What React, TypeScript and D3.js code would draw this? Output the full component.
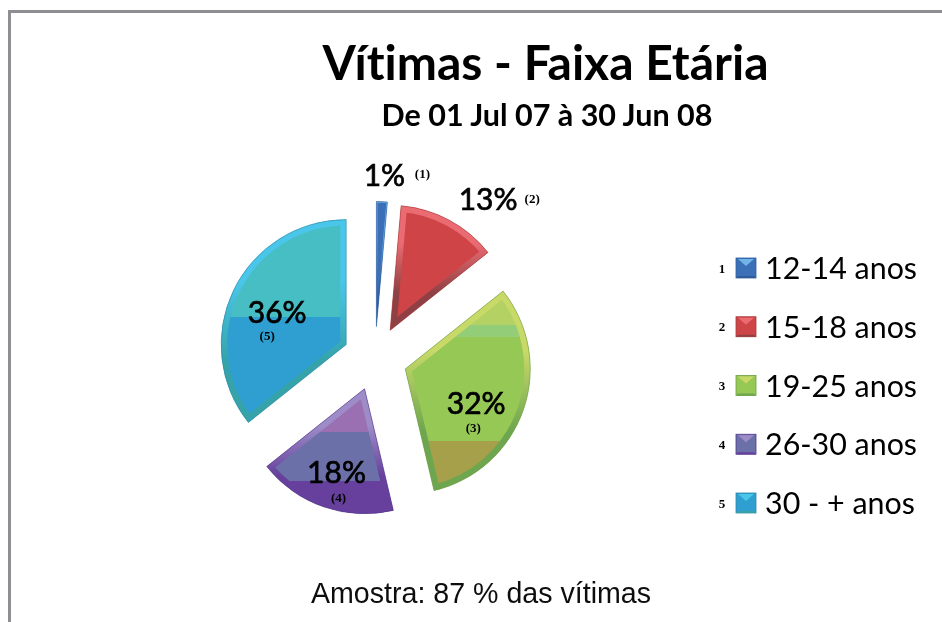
import React from 'react';
import * as d3 from 'd3';

// chart values
const categories = ['12-14 anos', '15-18 anos', '19-25 anos', '26-30 anos', '30 - + anos'];
const values = [1.4, 12.9, 32, 18, 35.7];
const markers = ['1', '2', '3', '4', '5'];
const chartTitle = 'Vítimas - Faixa Etária';
const chartSubtitle = 'De 01 Jul 07 à 30 Jun 08';
const footnote = 'Amostra: 87 % das vítimas';

// look of each slice: base colour, light bevel, dark bevel, rim
const baseColors = ['#3b6fb8', '#cf4546', '#96c857', '#6c70a8', '#2e9fd0'];
const lightBevels = ['#6fb4e8', '#ea6c72', '#c8d968', '#9d8cc8', '#4ac6ea'];
const darkBevels = ['#2e5a9a', '#8f4044', '#6ea64f', '#66409c', '#35a3a8'];
const rims = ['#2f5f9f', '#a33c3c', '#6b9e48', '#54398c', '#2f88a8'];
// gloss bands: [fraction of slice height, colour]
const bands: [number, string][][] = [
  [[1, '#3b6fb8']],
  [[1, '#cf4546']],
  [[0.17, '#b4d264'], [0.23, '#93cd78'], [0.75, '#96c857'], [1, '#a5a04a']],
  [[0.35, '#9a6fb2'], [0.74, '#6c70a8'], [1, '#66409c']],
  [[0.48, '#47bdc4'], [1, '#2e9fd0']],
];
const labelNudges = [
  [8, -152],
  [98, -131],
  [71, 34],
  [-28, 83],
  [-69, -33],
];
const markerNudges = [
  [46, -153],
  [142, -131],
  [68, 59],
  [-26, 109],
  [-79, -9],
];

const width = 942;
const height = 622;
const cx = 375;
const cy = 358.5;
const radius = 125;
const explode = 32;
const bevel = 6;

const pie = d3.pie<number>().sort(null).startAngle(0).endAngle(2 * Math.PI);
const arc = d3.arc<d3.PieArcDatum<number>>().innerRadius(0).outerRadius(radius);
const slices = pie(values);

const legendY = d3.scalePoint<string>().domain(categories).range([268, 503]);

function apex(d: d3.PieArcDatum<number>) {
  const mid = (d.startAngle + d.endAngle) / 2;
  return [cx + explode * Math.sin(mid), cy - explode * Math.cos(mid)];
}

// vertical extent of a slice, needed for the gloss gradient
function extent(d: d3.PieArcDatum<number>) {
  const ys = [0];
  for (let i = 0; i <= 40; i++) {
    const a = d.startAngle + ((d.endAngle - d.startAngle) * i) / 40;
    ys.push(-radius * Math.cos(a));
  }
  return [Math.min(...ys), Math.max(...ys)];
}

function Swatch({ i, y }: { i: number; y: number }) {
  const s = 20;
  const x0 = 736;
  const y0 = y - s / 2;
  return (
    <g>
      <rect x={x0} y={y0} width={s} height={s} fill={baseColors[i]} stroke={rims[i]} strokeWidth={0.8} />
      <polygon points={`${x0 + 2},${y0 + 1} ${x0 + s - 2},${y0 + 1} ${x0 + s / 2},${y0 + s * 0.4}`} fill={lightBevels[i]} />
      <polygon points={`${x0},${y0 + s} ${x0 + s},${y0 + s} ${x0 + s - 2},${y0 + s - 2} ${x0 + 2},${y0 + s - 2}`} fill={darkBevels[i]} />
    </g>
  );
}

export default function App() {
  return (
    <svg width={width} height={height} viewBox={`0 0 ${width} ${height}`}
      style={{ position: 'absolute', left: 0, top: 0, background: '#fff', fontVariantLigatures: 'none' }}>
      <defs>
        <filter id="soft" x="-5%" y="-5%" width="110%" height="110%">
          <feGaussianBlur stdDeviation="0.7" />
        </filter>
        {slices.map((d, i) => {
          const [y0, y1] = extent(d);
          const stops: React.ReactNode[] = [];
          let prev = 0;
          bands[i].forEach(([to, color], j) => {
            stops.push(<stop key={`a${j}`} offset={prev} stopColor={color} />);
            stops.push(<stop key={`b${j}`} offset={to} stopColor={color} />);
            prev = to;
          });
          return (
            <React.Fragment key={i}>
              <clipPath id={`clip-${i}`}><path d={arc(d) || ''} /></clipPath>
              <linearGradient id={`gloss-${i}`} gradientUnits="userSpaceOnUse" x1={0} x2={0} y1={y0} y2={y1}>
                {stops}
              </linearGradient>
              <linearGradient id={`bevel-${i}`} gradientUnits="userSpaceOnUse" x1={0} x2={0} y1={y0} y2={y1}>
                <stop offset={0.3} stopColor={lightBevels[i]} />
                <stop offset={0.7} stopColor={darkBevels[i]} />
              </linearGradient>
            </React.Fragment>
          );
        })}
      </defs>

      <g filter="url(#soft)">
        <path d={`M9.5,${height} V11.5 H${width}`} fill="none" stroke="#8e8e93" strokeWidth={3} />

        {slices.map((d, i) => {
          const [ax, ay] = apex(d);
          return (
            <g key={i} transform={`translate(${ax},${ay})`}>
              <path d={arc(d) || ''} fill={`url(#gloss-${i})`} />
              <g clipPath={`url(#clip-${i})`}>
                <path d={arc(d) || ''} fill="none" stroke={`url(#bevel-${i})`} strokeWidth={i === 0 ? 2 : bevel * 2} strokeLinejoin="miter" />
              </g>
              <path d={arc(d) || ''} fill="none" stroke={rims[i]} strokeWidth={1} strokeOpacity={0.6} />
            </g>
          );
        })}

        <g fontFamily="Lato, sans-serif" textAnchor="middle" fill="#000">
          <text x={545.5} y={80} fontSize={48} fontWeight={700}>{chartTitle}</text>
          <text x={547} y={126} fontSize={30.5} fontWeight={700}>{chartSubtitle}</text>
        </g>

        {slices.map((d, i) => {
          const [ax, ay] = apex(d);
          return (
            <g key={i} textAnchor="middle" fill="#000">
              <text x={ax + labelNudges[i][0]} y={ay + labelNudges[i][1] + 11} fontFamily="Lato, sans-serif" fontSize={30} stroke="#000" strokeWidth={0.7}>
                {Math.round(values[i])}%
              </text>
              <text x={ax + markerNudges[i][0]} y={ay + markerNudges[i][1] + 4} fontFamily="'Liberation Serif', serif" fontSize={13} fontWeight={700}>
                ({markers[i]})
              </text>
            </g>
          );
        })}

        {categories.map((c, i) => {
          const y = legendY(c) as number;
          return (
            <g key={c}>
              <text x={722} y={y + 4.5} textAnchor="middle" fontFamily="'Liberation Serif', serif" fontSize={13} fontWeight={700}>{markers[i]}</text>
              <Swatch i={i} y={y} />
              <text x={765} y={y + 11} fontFamily="Lato, sans-serif" fontSize={30.4}>{c}</text>
            </g>
          );
        })}

        <text x={481} y={603} textAnchor="middle" fontFamily="'Liberation Sans', Arial, sans-serif" fontSize={28.6} fill="#111">{footnote}</text>
      </g>
    </svg>
  );
}
